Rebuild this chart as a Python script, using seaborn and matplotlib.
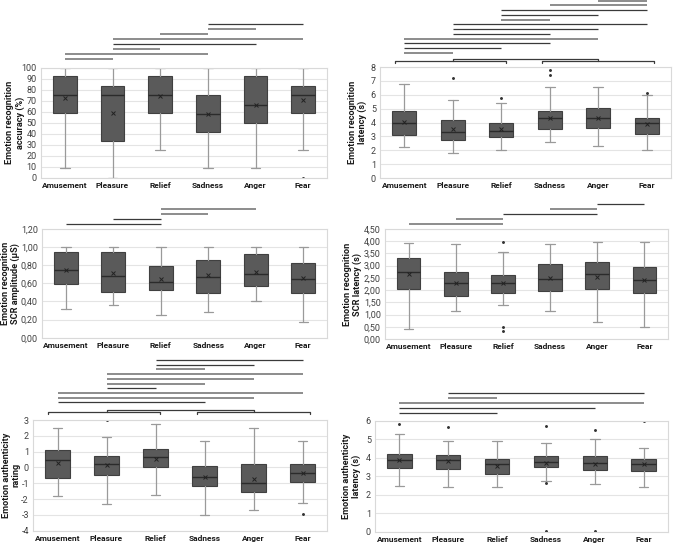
import matplotlib

matplotlib.use("Agg")

import matplotlib.pyplot as plt
import matplotlib.transforms as mtransforms
import seaborn as sns

EMOTIONS = ["Amusement", "Pleasure", "Relief", "Sadness", "Anger", "Fear"]

# summary statistics: low whisker, Q1, median, Q3, high whisker, mean, outliers
ACC_LOW = [8.5, 0, 25, 8.5, 8.5, 25]
ACC_Q1 = [58.5, 33.5, 58.5, 41.7, 50, 58.5]
ACC_MED = [75.5, 75.5, 75.5, 58, 66.5, 75.5]
ACC_Q3 = [92, 83.3, 92, 75, 92, 83.3]
ACC_HIGH = [100, 100, 100, 100, 100, 100]
ACC_MEAN = [72.5, 59, 74, 57.5, 66.5, 70.5]
ACC_OUT = [[], [], [], [], [], [0]]

LAT_LOW = [2.22, 1.8, 2.05, 2.6, 2.3, 2.0]
LAT_Q1 = [3.12, 2.75, 2.92, 3.52, 3.6, 3.2]
LAT_MED = [3.94, 3.3, 3.42, 4.3, 4.3, 3.93]
LAT_Q3 = [4.85, 4.15, 3.97, 4.83, 5.02, 4.33]
LAT_HIGH = [6.75, 5.62, 5.42, 6.55, 6.55, 6.0]
LAT_MEAN = [4.01, 3.55, 3.52, 4.32, 4.35, 3.88]
LAT_OUT = [[], [7.2], [5.75], [7.45, 7.75], [], [6.15]]

AMP_LOW = [0.32, 0.36, 0.245, 0.28, 0.40, 0.17]
AMP_Q1 = [0.59, 0.50, 0.525, 0.49, 0.57, 0.49]
AMP_MED = [0.74, 0.68, 0.61, 0.665, 0.705, 0.65]
AMP_Q3 = [0.94, 0.945, 0.785, 0.86, 0.917, 0.82]
AMP_HIGH = [1.0, 1.0, 1.0, 1.0, 1.0, 1.0]
AMP_MEAN = [0.74, 0.715, 0.645, 0.685, 0.72, 0.66]
AMP_OUT = [[], [], [], [], [], []]

SCRL_LOW = [0.40, 1.16, 1.40, 1.13, 0.68, 0.48]
SCRL_Q1 = [2.05, 1.74, 1.87, 1.95, 2.03, 1.89]
SCRL_MED = [2.73, 2.28, 2.31, 2.46, 2.65, 2.41]
SCRL_Q3 = [3.31, 2.76, 2.63, 3.05, 3.16, 2.94]
SCRL_HIGH = [3.91, 3.88, 3.54, 3.88, 3.95, 3.95]
SCRL_MEAN = [2.66, 2.30, 2.31, 2.50, 2.54, 2.42]
SCRL_OUT = [[], [], [3.97, 0.50, 0.34], [], [], []]

AUT_LOW = [-1.8, -2.34, -1.73, -3.0, -2.72, -2.24]
AUT_Q1 = [-0.65, -0.5, 0.0, -1.18, -1.54, -0.91]
AUT_MED = [0.5, 0.19, 0.68, -0.63, -1.01, -0.38]
AUT_Q3 = [1.08, 0.74, 1.14, 0.08, 0.19, 0.19]
AUT_HIGH = [2.5, 1.9, 2.77, 1.69, 2.5, 1.69]
AUT_MEAN = [0.3, 0.13, 0.55, -0.63, -0.76, -0.38]
AUT_OUT = [[], [3.0], [], [], [], [-2.97]]

AUTL_LOW = [2.5, 2.4, 2.4, 2.73, 2.57, 2.4]
AUTL_Q1 = [3.44, 3.42, 3.11, 3.53, 3.36, 3.31]
AUTL_MED = [3.88, 3.88, 3.65, 3.8, 3.71, 3.65]
AUTL_Q3 = [4.23, 4.16, 3.92, 4.09, 4.09, 3.96]
AUTL_HIGH = [5.28, 4.94, 4.94, 4.79, 5.05, 4.56]
AUTL_MEAN = [3.86, 3.83, 3.56, 3.71, 3.65, 3.65]
AUTL_OUT = [[5.84], [5.68], [], [5.75, 2.64, 0.03], [5.5, 0.03], [6.0]]

# significant pairwise comparisons, bottom line first: (from, to, shade)
ACC_PAIRS = [(0, 1, "g"), (0, 3, "g"), (1, 2, "g"), (1, 4, "d"), (1, 5, "g"),
             (2, 3, "g"), (3, 4, "g"), (3, 5, "d")]
LAT_PAIRS = [(0, 1, "g"), (0, 2, "d"), (0, 3, "d"), (0, 4, "g"), (1, 3, "d"),
             (1, 4, "d"), (1, 5, "d"), (2, 3, "g"), (2, 4, "d"), (2, 5, "d"),
             (3, 5, "g"), (4, 5, "g")]
AMP_PAIRS = [(0, 2, "d"), (1, 2, "d"), (2, 3, "g"), (2, 4, "g")]
SCRL_PAIRS = [(0, 2, "g"), (1, 2, "g"), (2, 4, "d"), (3, 4, "g"), (4, 5, "d")]
AUT_PAIRS = [(0, 3, "d"), (0, 4, "g"), (0, 5, "g"), (1, 2, "d"), (1, 3, "g"),
             (1, 4, "g"), (1, 5, "g"), (2, 3, "g"), (2, 4, "d"), (2, 5, "d")]
AUTL_PAIRS = [(0, 2, "d"), (0, 4, "d"), (0, 5, "g"), (1, 2, "g"), (1, 5, "d")]

SHADES = {"d": ("#3a3a3a", 0.9), "g": ("#8c8c8c", 1.4)}


def make_stats(low, q1, med, q3, high, mean, out):
    return [
        {"label": lab, "whislo": lo, "q1": a, "med": m, "q3": b, "whishi": hi,
         "mean": mu, "fliers": fl}
        for lab, lo, a, m, b, hi, mu, fl in zip(EMOTIONS, low, q1, med, q3, high, mean, out)
    ]


def draw_box(ax, stats, ylim, yticks, fmt):
    ax.bxp(
        stats, positions=range(len(stats)), widths=0.5, capwidths=0.2,
        patch_artist=True, showmeans=True, showfliers=True,
        boxprops=dict(facecolor="#5a5a5a", edgecolor="#404040", linewidth=0.8),
        medianprops=dict(color="#2b2b2b", linewidth=1.0),
        whiskerprops=dict(color="#9a9a9a", linewidth=0.9),
        capprops=dict(color="#9a9a9a", linewidth=0.9),
        meanprops=dict(marker="x", markersize=3.2, markeredgecolor="#222222", markeredgewidth=0.7),
        flierprops=dict(marker="o", markersize=1.1, markerfacecolor="#333333", markeredgecolor="#333333"),
    )
    ax.set_xlim(-0.5, len(stats) - 0.5)
    ax.set_ylim(*ylim)
    ax.set_yticks(yticks)
    ax.set_yticklabels([fmt(v) for v in yticks])
    ax.set_xticks(range(len(stats)))
    ax.set_xticklabels(EMOTIONS, fontweight="bold")
    ax.tick_params(axis="y", labelsize=6.5, labelcolor="#404040", length=0, pad=3)
    ax.tick_params(axis="x", labelsize=6.0, labelcolor="#1a1a1a", length=0, pad=3)
    ax.grid(axis="y", color="#e4e4e4", linewidth=0.8)
    ax.grid(axis="x", visible=False)
    ax.set_axisbelow(True)
    for sp in ax.spines.values():
        sp.set_color("#d9d9d9")
        sp.set_linewidth(0.8)


def draw_pairs(ax, pairs, base_px, step_px):
    h = ax.bbox.height
    trans = mtransforms.blended_transform_factory(ax.transData, ax.transAxes)
    for k, (i, j, shade) in enumerate(pairs):
        y = 1 + (base_px + k * step_px) / h
        color, lw = SHADES[shade]
        ax.plot([i, j], [y, y], transform=trans, clip_on=False, color=color, lw=lw,
                solid_capstyle="butt")


def draw_groups(ax, base_px, tick_px=2.0):
    h = ax.bbox.height
    trans = mtransforms.blended_transform_factory(ax.transData, ax.transAxes)
    y = 1 + base_px / h
    y_mid = 1 + (base_px + 2.5) / h
    t = tick_px / h
    kw = dict(transform=trans, clip_on=False, color="#3a3a3a", lw=0.9)
    ax.plot([-0.2, -0.2, 2.1, 2.1], [y - t, y, y, y - t], **kw)
    ax.plot([2.85, 2.85, 5.15, 5.15], [y - t, y, y, y - t], **kw)
    ax.plot([1, 1, 4, 4], [y, y_mid, y_mid, y], **kw)


def fig_rect(left, right, top, bottom, w=676, h=545):
    return [left / w, 1 - bottom / h, (right - left) / w, (bottom - top) / h]


sns.set_theme(style="whitegrid")
plt.rcParams["font.family"] = ["Roboto", "DejaVu Sans"]

fig = plt.figure(figsize=(6.76, 5.45), dpi=100)
fig.patch.set_facecolor("white")

panels = [
    (fig_rect(41, 327, 67.7, 177.7), make_stats(ACC_LOW, ACC_Q1, ACC_MED, ACC_Q3, ACC_HIGH, ACC_MEAN, ACC_OUT),
     (0, 100), list(range(0, 101, 10)), lambda v: f"{v:d}",
     "Emotion recognition\naccuracy (%)", -0.091, ACC_PAIRS, 8.7, 5.0, None),
    (fig_rect(380, 671, 67, 178), make_stats(LAT_LOW, LAT_Q1, LAT_MED, LAT_Q3, LAT_HIGH, LAT_MEAN, LAT_OUT),
     (0, 8), list(range(0, 9)), lambda v: f"{v:d}",
     "Emotion recognition\nlatency (s)", -0.076, LAT_PAIRS, 14.3, 4.73, 6.0),
    (fig_rect(42, 327, 228.7, 337.7), make_stats(AMP_LOW, AMP_Q1, AMP_MED, AMP_Q3, AMP_HIGH, AMP_MEAN, AMP_OUT),
     (0, 1.2), [0, 0.2, 0.4, 0.6, 0.8, 1.0, 1.2], lambda v: f"{v:.2f}".replace(".", ","),
     "Emotion recognition\nSCR amplitude (µS)", -0.109, AMP_PAIRS, 4.7, 4.9, None),
    (fig_rect(385, 668, 229, 339), make_stats(SCRL_LOW, SCRL_Q1, SCRL_MED, SCRL_Q3, SCRL_HIGH, SCRL_MEAN, SCRL_OUT),
     (0, 4.5), [0, 0.5, 1, 1.5, 2, 2.5, 3, 3.5, 4, 4.5], lambda v: f"{v:.2f}".replace(".", ","),
     "Emotion recognition\nSCR latency (s)", -0.115, SCRL_PAIRS, 4.6, 5.0, None),
    (fig_rect(33, 327, 420, 530.7), make_stats(AUT_LOW, AUT_Q1, AUT_MED, AUT_Q3, AUT_HIGH, AUT_MEAN, AUT_OUT),
     (-4, 3), list(range(-4, 4)), lambda v: f"{v:d}",
     "Emotion authenticity\nrating", -0.075, AUT_PAIRS, 17.7, 4.7, 7.7),
    (fig_rect(375, 668, 421, 531.7), make_stats(AUTL_LOW, AUTL_Q1, AUTL_MED, AUTL_Q3, AUTL_HIGH, AUTL_MEAN, AUTL_OUT),
     (0, 6), list(range(0, 7)), lambda v: f"{v:d}",
     "Emotion authenticity\nlatency (s)", -0.079, AUTL_PAIRS, 8.0, 5.0, None),
]

for rect, stats, ylim, yticks, fmt, ylabel, lab_x, pairs, base, step, group_px in panels:
    ax = fig.add_axes(rect)
    draw_box(ax, stats, ylim, yticks, fmt)
    ax.text(lab_x, 0.5, ylabel, transform=ax.transAxes, rotation=90, ha="center",
            va="center", multialignment="center", fontsize=6.6, fontweight="bold",
            color="#1a1a1a", linespacing=1.1)
    draw_pairs(ax, pairs, base, step)
    if group_px is not None:
        draw_groups(ax, group_px)

fig.savefig("out.png", dpi=100, facecolor="white")
plt.close(fig)
